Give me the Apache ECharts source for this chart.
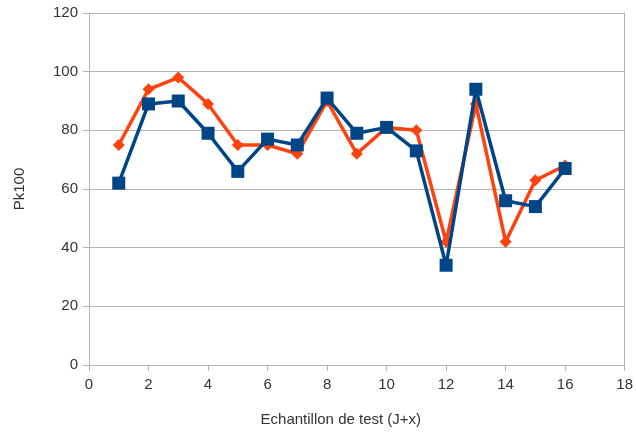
<!DOCTYPE html>
<html><head><meta charset="utf-8">
<script src="https://cdn.jsdelivr.net/npm/echarts@6/dist/echarts.min.js"></script>
<style>html,body{margin:0;padding:0;background:#fff}#c{width:636px;height:432px}</style>
</head><body><div id="c"></div>
<script>
const samples = [1,2,3,4,5,6,7,8,9,10,11,12,13,14,15,16];
const orangeValues = [75,94,98,89,75,75,72,90,72,81,80,42,89,42,63,68];
const blueValues = [62,89,90,79,66,77,75,91,79,81,73,34,94,56,54,67];
const xTitle = 'Echantillon de test (J+x)';
const yTitle = 'Pk100';

const chart = echarts.init(document.getElementById('c'), null, {renderer:'canvas'});
const font = 'Liberation Sans';
chart.setOption({
  animation:false,
  backgroundColor:'#fff',
  grid:{left:89, right:7, top:13, bottom:67},
  xAxis:{type:'value', min:0, max:18, interval:2,
    name:xTitle, nameLocation:'middle', nameGap:47,
    nameTextStyle:{fontFamily:font, fontSize:15, color:'#333', padding:[0,32,0,0]},
    axisLine:{show:true, lineStyle:{color:'#b3b3b3', width:1}},
    axisTick:{show:true, length:6, lineStyle:{color:'#b3b3b3'}},
    axisLabel:{fontFamily:font, fontSize:15, color:'#333', margin:12},
    splitLine:{show:false}},
  yAxis:[{type:'value', min:0, max:120, interval:20,
    name:yTitle, nameLocation:'middle', nameGap:62, nameRotate:90,
    nameTextStyle:{fontFamily:font, fontSize:15, color:'#333'},
    axisLine:{show:true, lineStyle:{color:'#b3b3b3', width:1}},
    axisTick:{show:true, length:6, lineStyle:{color:'#b3b3b3'}},
    axisLabel:{fontFamily:font, fontSize:15, color:'#333', margin:11},
    splitLine:{show:true, lineStyle:{color:'#b3b3b3', width:1}}},
   {type:'value', min:0, max:120, interval:20, position:'right',
    axisLine:{show:true, lineStyle:{color:'#b3b3b3', width:1}},
    axisTick:{show:false}, axisLabel:{show:false}, splitLine:{show:false}}],
  series:[
    {type:'line', data:samples.map((x,i)=>[x,orangeValues[i]]),
     symbol:'diamond', symbolSize:12, showSymbol:true,
     lineStyle:{color:'#ff420e', width:3.5}, itemStyle:{color:'#ff420e'}, z:2},
    {type:'line', data:samples.map((x,i)=>[x,blueValues[i]]),
     symbol:'rect', symbolSize:13, showSymbol:true,
     lineStyle:{color:'#004586', width:3.5}, itemStyle:{color:'#004586'}, z:3}
  ]
});
</script></body></html>
